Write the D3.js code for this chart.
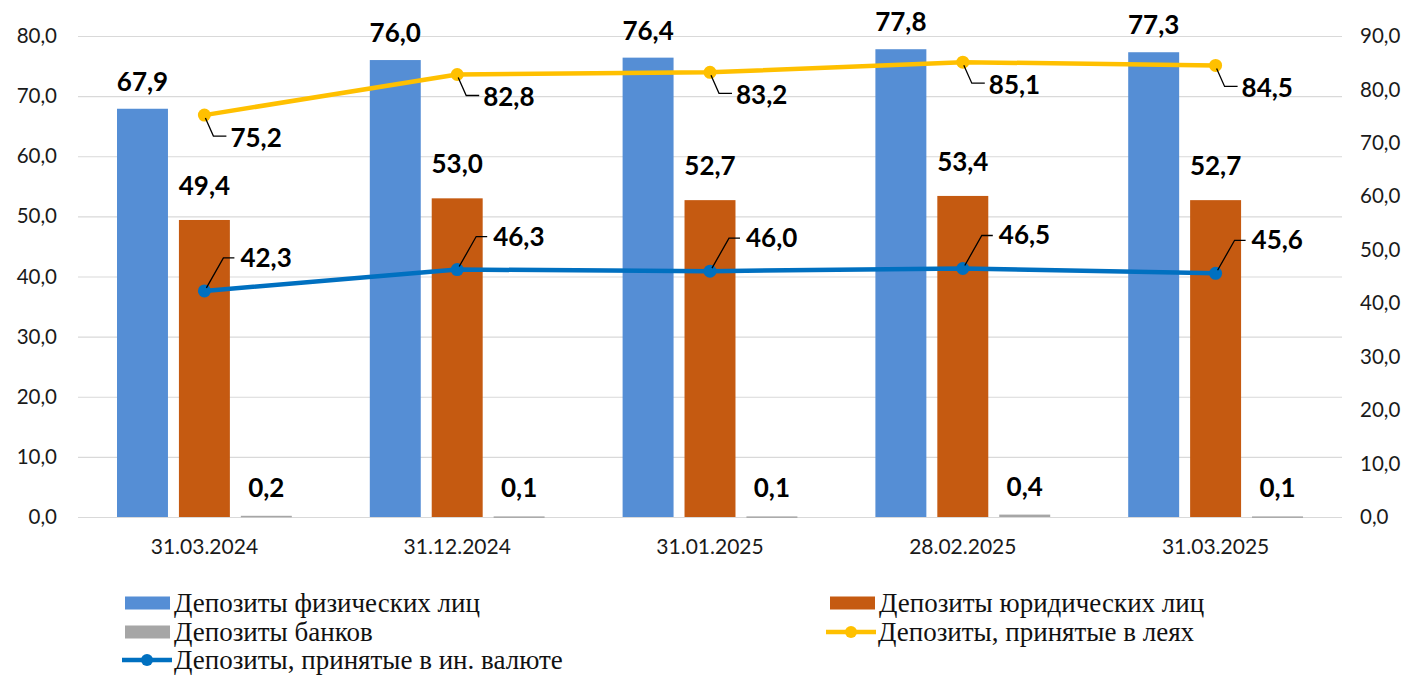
<!DOCTYPE html>
<html><head><meta charset="utf-8">
<script src="https://cdn.jsdelivr.net/npm/d3@7"></script>
<style>
html,body{margin:0;padding:0;background:#fff;}
svg{display:block;}
</style></head>
<body>
<svg id="c" width="1425" height="675"></svg>
<script>
const categories = ["31.03.2024","31.12.2024","31.01.2025","28.02.2025","31.03.2025"];
const depFiz = [67.9, 76.0, 76.4, 77.8, 77.3];
const depJur = [49.4, 53.0, 52.7, 53.4, 52.7];
const depBank = [0.2, 0.1, 0.1, 0.4, 0.1];
const depLei = [75.2, 82.8, 83.2, 85.1, 84.5];
const depFx = [42.3, 46.3, 46.0, 46.5, 45.6];
const leftTicks = [0,10,20,30,40,50,60,70,80];
const rightTicks = [0,10,20,30,40,50,60,70,80,90];
const seriesNames = ["Депозиты физических лиц","Депозиты юридических лиц","Депозиты банков","Депозиты, принятые в леях","Депозиты, принятые в ин. валюте"];

const C = {fiz:"#558ED5", jur:"#C55A11", bank:"#A6A6A6", lei:"#FFC000", fx:"#0070C0", grid:"#D9D9D9"};
const fmt = v => v.toFixed(1).replace(".", ",");
const sansFont = "Lato, 'Open Sans', sans-serif";
const serifFont = "'Liberation Serif', 'DejaVu Serif', serif";

const svg = d3.select("#c");
const X0 = 78, X1 = 1342, Y0 = 517, Y1 = 36;

const x = d3.scaleBand().domain(categories).range([X0, X1]).paddingInner(0).paddingOuter(0);
const bw = x.bandwidth();
const xs = d3.scaleBand().domain(["fiz","jur","bank"]).range([39, bw - 39]).paddingInner(0.177).paddingOuter(0);
const yL = d3.scaleLinear().domain([0, 80]).range([Y0, Y1]);
const yR = d3.scaleLinear().domain([0, 90]).range([Y0, Y1]);

// gridlines + left axis
const leftAxis = d3.axisLeft(yL).tickValues(leftTicks).tickSize(-(X1 - X0)).tickFormat(fmt).tickPadding(21);
const gL = svg.append("g").attr("transform", `translate(${X0},0)`).call(leftAxis);
gL.select(".domain").remove();
gL.selectAll(".tick line").attr("stroke", C.grid).attr("stroke-width", 1.2);
gL.selectAll(".tick text").attr("font-family", sansFont).attr("font-size", 20.5).attr("fill", "#1a1a1a");

const rightAxis = d3.axisRight(yR).tickValues(rightTicks).tickSize(0).tickFormat(fmt).tickPadding(18);
const gR = svg.append("g").attr("transform", `translate(${X1},0)`).call(rightAxis);
gR.select(".domain").remove();
gR.selectAll(".tick text").attr("font-family", sansFont).attr("font-size", 20.5).attr("fill", "#1a1a1a");

const xAxis = d3.axisBottom(x).tickSize(0).tickPadding(22);
const gX = svg.append("g").attr("transform", `translate(0,${Y0})`).call(xAxis);
gX.select(".domain").remove();
gX.selectAll(".tick text").attr("font-family", sansFont).attr("font-size", 21).attr("fill", "#1a1a1a");

// bars
const barSeries = [
  {key:"fiz", vals:depFiz, color:C.fiz, off:18},
  {key:"jur", vals:depJur, color:C.jur, off:25},
  {key:"bank", vals:depBank, color:C.bank, off:19}
];
barSeries.forEach(s => {
  const g = svg.append("g");
  g.selectAll("rect").data(s.vals).join("rect")
    .attr("x", (d,i) => x(categories[i]) + xs(s.key))
    .attr("y", d => yL(d))
    .attr("width", xs.bandwidth())
    .attr("height", d => Math.max(1.5, Y0 - yL(d)))
    .attr("fill", s.color);
  g.selectAll("text").data(s.vals).join("text")
    .attr("x", (d,i) => x(categories[i]) + xs(s.key) + xs.bandwidth()/2)
    .attr("y", d => yL(d) - s.off)
    .attr("text-anchor", "middle")
    .attr("font-family", sansFont).attr("font-weight", "bold").attr("font-size", 26)
    .attr("fill", "#000")
    .text(d => fmt(d));
});

// lines
const cx = i => x(categories[i]) + bw/2;
function drawLine(vals, color){
  const line = d3.line().x((d,i) => cx(i)).y(d => yR(d));
  svg.append("path").datum(vals).attr("d", line).attr("fill", "none")
    .attr("stroke", color).attr("stroke-width", 4.5).attr("stroke-linejoin", "round");
  svg.append("g").selectAll("circle").data(vals).join("circle")
    .attr("cx", (d,i) => cx(i)).attr("cy", d => yR(d)).attr("r", 6.5).attr("fill", color);
}
drawLine(depLei, C.lei);
drawLine(depFx, C.fx);

// labels for lines with leader lines
const gLab = svg.append("g");
depLei.forEach((v,i) => {
  const px = cx(i), py = yR(v);
  gLab.append("path").attr("d", `M${px+1},${py+3}L${px+9},${py+21}L${px+22},${py+21}`)
    .attr("fill","none").attr("stroke","#000").attr("stroke-width",1.3);
  gLab.append("text").attr("x", px + 26).attr("y", py + 32)
    .attr("font-family", sansFont).attr("font-weight","bold").attr("font-size",26).attr("fill","#000")
    .text(fmt(v));
});
depFx.forEach((v,i) => {
  const px = cx(i), py = yR(v);
  gLab.append("path").attr("d", `M${px+2},${py-3}L${px+19},${py-33}L${px+30},${py-33}`)
    .attr("fill","none").attr("stroke","#000").attr("stroke-width",1.3);
  gLab.append("text").attr("x", px + 36).attr("y", py - 24)
    .attr("font-family", sansFont).attr("font-weight","bold").attr("font-size",26).attr("fill","#000")
    .text(fmt(v));
});

// legend
const legend = [
  {name:seriesNames[0], type:"rect", color:C.fiz, x:125, y:603},
  {name:seriesNames[1], type:"rect", color:C.jur, x:830, y:603},
  {name:seriesNames[2], type:"rect", color:C.bank, x:125, y:632},
  {name:seriesNames[3], type:"line", color:C.lei, x:826, y:632},
  {name:seriesNames[4], type:"line", color:C.fx, x:122, y:660}
];
const gLeg = svg.append("g");
legend.forEach(l => {
  if (l.type === "rect") {
    gLeg.append("rect").attr("x", l.x).attr("y", l.y - 6.5).attr("width", 45).attr("height", 13).attr("fill", l.color);
  } else {
    gLeg.append("line").attr("x1", l.x).attr("x2", l.x + 50).attr("y1", l.y).attr("y2", l.y)
      .attr("stroke", l.color).attr("stroke-width", 4.5);
    gLeg.append("circle").attr("cx", l.x + 25).attr("cy", l.y).attr("r", 6).attr("fill", l.color);
  }
  gLeg.append("text").attr("x", (l.type === "rect" ? l.x + 49 : l.x + 52)).attr("y", l.y)
    .attr("dominant-baseline", "central")
    .attr("font-family", serifFont).attr("font-size", 27).attr("fill", "#111")
    .text(l.name);
});
</script>
</body></html>
